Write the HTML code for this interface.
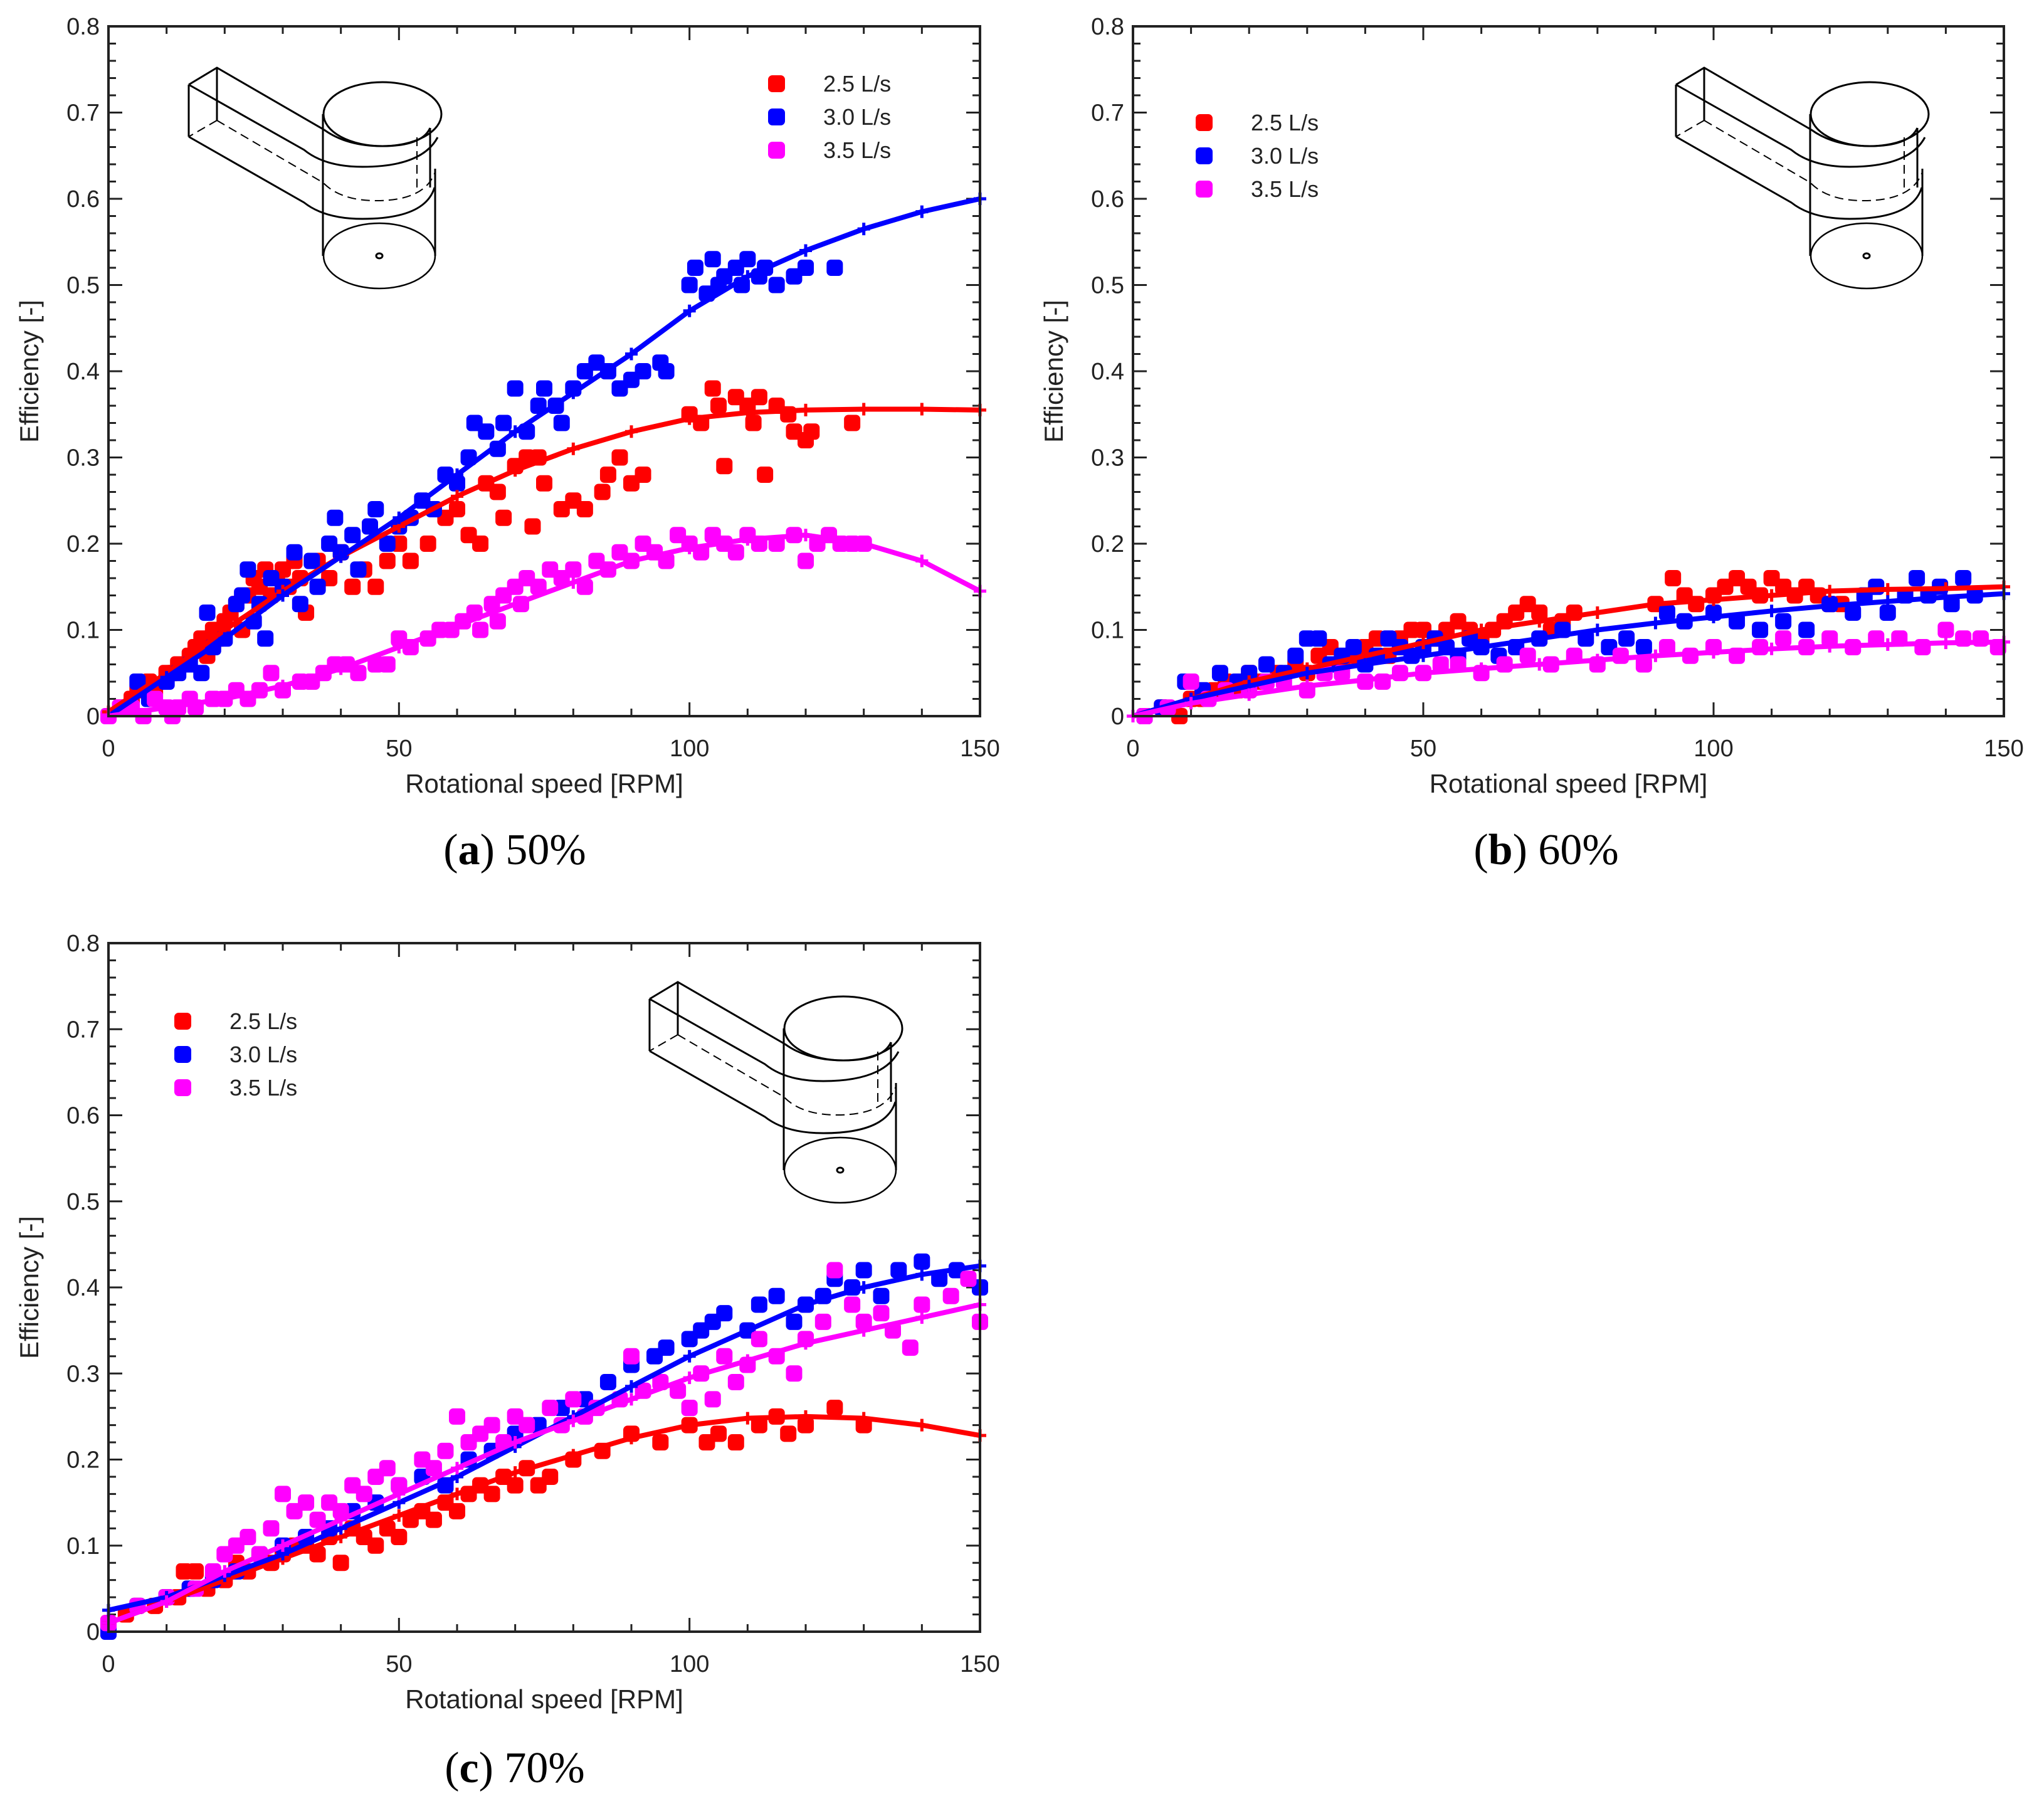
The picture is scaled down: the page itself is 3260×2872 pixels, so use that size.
<!DOCTYPE html>
<html><head><meta charset="utf-8">
<style>
html,body{margin:0;padding:0;background:#fff;}
svg{display:block;}
text{font-family:"Liberation Sans",sans-serif;fill:#222;}
.cap{font-family:"Liberation Serif",serif;fill:#000;}
</style></head>
<body>
<svg id="fig" width="3260" height="2872" viewBox="0 0 3260 2872" xmlns="http://www.w3.org/2000/svg"></svg>
<script>
// ---------- data ----------
const fitX = [0,10,20,30,40,50,60,70,80,90,100,110,120,130,140,150];
const aFitRed  = [0.005,0.05,0.1,0.145,0.185,0.22,0.255,0.285,0.31,0.33,0.345,0.352,0.355,0.356,0.356,0.355];
const aFitBlue = [0,0.045,0.09,0.14,0.185,0.23,0.28,0.33,0.375,0.42,0.47,0.51,0.54,0.565,0.585,0.6];
const aFitMag  = [0,0.01,0.02,0.035,0.055,0.08,0.105,0.13,0.155,0.18,0.195,0.205,0.21,0.2,0.18,0.145];
const bFitRed  = [0,0.02,0.04,0.055,0.07,0.085,0.1,0.11,0.12,0.13,0.135,0.14,0.145,0.147,0.148,0.15];
const bFitBlue = [0,0.02,0.035,0.05,0.06,0.07,0.08,0.09,0.1,0.108,0.115,0.122,0.128,0.133,0.138,0.142];
const bFitMag  = [0,0.015,0.025,0.035,0.042,0.05,0.055,0.06,0.065,0.07,0.074,0.078,0.081,0.083,0.085,0.086];
const cFitRed  = [0.01,0.035,0.06,0.085,0.11,0.135,0.16,0.185,0.205,0.225,0.24,0.248,0.25,0.248,0.24,0.228];
const cFitBlue = [0.025,0.04,0.065,0.09,0.12,0.15,0.18,0.215,0.25,0.285,0.32,0.35,0.38,0.4,0.415,0.425];
const cFitMag  = [0.01,0.035,0.07,0.1,0.13,0.16,0.19,0.22,0.245,0.27,0.295,0.315,0.335,0.35,0.365,0.38];

const aRed = [[2,0.01],[4,0.02],[5,0.03],[7,0.04],[8,0.03],[10,0.05],[11,0.05],[12,0.06],[14,0.07],[15,0.08],[16,0.09],[17,0.07],[18,0.1],[19,0.09],[20,0.11],[21,0.12],[22,0.13],[23,0.1],[24,0.14],[25,0.16],[26,0.15],[27,0.17],[28,0.14],[29,0.16],[30,0.17],[31,0.15],[32,0.18],[33,0.16],[34,0.12],[36,0.18],[38,0.16],[40,0.19],[42,0.15],[44,0.17],[46,0.15],[48,0.18],[50,0.2],[52,0.18],[55,0.2],[58,0.23],[60,0.24],[62,0.21],[64,0.2],[65,0.27],[67,0.26],[68,0.23],[70,0.29],[72,0.3],[73,0.22],[74,0.3],[75,0.27],[78,0.24],[80,0.25],[82,0.24],[85,0.26],[86,0.28],[88,0.3],[90,0.27],[92,0.28],[100,0.35],[102,0.34],[104,0.38],[105,0.36],[106,0.29],[108,0.37],[110,0.36],[111,0.34],[112,0.37],[113,0.28],[115,0.36],[117,0.35],[118,0.33],[120,0.32],[121,0.33],[128,0.34]];
const aBlue = [[3,0.01],[5,0.04],[7,0.02],[10,0.04],[12,0.05],[14,0.06],[16,0.05],[17,0.12],[18,0.08],[20,0.09],[22,0.13],[23,0.14],[24,0.17],[25,0.11],[26,0.13],[27,0.09],[28,0.16],[30,0.15],[32,0.19],[33,0.13],[35,0.18],[36,0.15],[38,0.2],[39,0.23],[40,0.19],[42,0.21],[43,0.17],[45,0.22],[46,0.24],[48,0.2],[50,0.22],[52,0.23],[54,0.25],[56,0.24],[58,0.28],[60,0.27],[62,0.3],[63,0.34],[65,0.33],[67,0.31],[68,0.34],[70,0.38],[72,0.33],[74,0.36],[75,0.38],[77,0.36],[78,0.34],[80,0.38],[82,0.4],[84,0.41],[86,0.4],[88,0.38],[90,0.39],[92,0.4],[95,0.41],[96,0.4],[100,0.5],[101,0.52],[103,0.49],[104,0.53],[105,0.5],[106,0.51],[108,0.52],[109,0.5],[110,0.53],[112,0.51],[113,0.52],[115,0.5],[118,0.51],[120,0.52],[125,0.52]];
const aMag = [[0,0],[2,0.01],[4,0.01],[6,0.0],[8,0.02],[10,0.01],[11,0.0],[12,0.01],[14,0.02],[15,0.01],[18,0.02],[20,0.02],[22,0.03],[24,0.02],[26,0.03],[28,0.05],[30,0.03],[33,0.04],[35,0.04],[37,0.05],[39,0.06],[41,0.06],[43,0.05],[46,0.06],[48,0.06],[50,0.09],[52,0.08],[55,0.09],[57,0.1],[59,0.1],[61,0.11],[63,0.12],[64,0.1],[66,0.13],[67,0.11],[68,0.14],[70,0.15],[71,0.13],[72,0.16],[74,0.15],[76,0.17],[78,0.16],[80,0.17],[82,0.15],[84,0.18],[86,0.17],[88,0.19],[90,0.18],[92,0.2],[94,0.19],[96,0.18],[98,0.21],[100,0.2],[102,0.19],[104,0.21],[106,0.2],[108,0.19],[110,0.21],[112,0.2],[115,0.2],[118,0.21],[120,0.18],[122,0.2],[124,0.21],[126,0.2],[128,0.2],[130,0.2]];
const bRed = [[2,0.0],[5,0.01],[8,0.0],[10,0.02],[12,0.02],[14,0.03],[16,0.04],[18,0.03],[20,0.05],[22,0.04],[25,0.05],[28,0.06],[30,0.05],[32,0.07],[34,0.08],[36,0.06],[38,0.07],[40,0.08],[42,0.09],[44,0.07],[46,0.09],[48,0.1],[50,0.1],[52,0.09],[54,0.1],[56,0.11],[58,0.1],[60,0.09],[62,0.1],[64,0.11],[66,0.12],[68,0.13],[70,0.12],[72,0.1],[74,0.11],[76,0.12],[90,0.13],[93,0.16],[95,0.14],[97,0.13],[100,0.14],[102,0.15],[104,0.16],[106,0.15],[108,0.14],[110,0.16],[112,0.15],[114,0.14],[116,0.15],[118,0.14],[120,0.13],[122,0.13]];
const bBlue = [[2,0.0],[5,0.01],[9,0.04],[12,0.03],[15,0.05],[18,0.04],[20,0.05],[23,0.06],[26,0.05],[28,0.07],[30,0.09],[32,0.09],[34,0.06],[36,0.07],[38,0.08],[40,0.06],[42,0.07],[44,0.09],[46,0.08],[48,0.07],[50,0.08],[52,0.09],[54,0.08],[56,0.07],[58,0.09],[60,0.08],[63,0.07],[66,0.08],[70,0.09],[74,0.1],[78,0.09],[82,0.08],[85,0.09],[88,0.08],[92,0.12],[95,0.11],[100,0.12],[104,0.11],[108,0.1],[112,0.11],[116,0.1],[120,0.13],[124,0.12],[126,0.14],[128,0.15],[130,0.12],[133,0.14],[135,0.16],[137,0.14],[139,0.15],[141,0.13],[143,0.16],[145,0.14]];
const bMag = [[2,0.0],[6,0.01],[10,0.04],[13,0.02],[16,0.03],[20,0.03],[23,0.04],[26,0.04],[30,0.03],[33,0.05],[36,0.05],[40,0.04],[43,0.04],[46,0.05],[50,0.05],[53,0.06],[56,0.06],[60,0.05],[64,0.06],[68,0.07],[72,0.06],[76,0.07],[80,0.06],[84,0.07],[88,0.06],[92,0.08],[96,0.07],[100,0.08],[104,0.07],[108,0.08],[112,0.09],[116,0.08],[120,0.09],[124,0.08],[128,0.09],[132,0.09],[136,0.08],[140,0.1],[143,0.09],[146,0.09],[149,0.08]];
const cRed = [[0,0.01],[3,0.02],[5,0.03],[8,0.03],[10,0.04],[12,0.04],[13,0.07],[14,0.05],[15,0.07],[17,0.05],[20,0.06],[22,0.08],[24,0.07],[26,0.09],[28,0.08],[30,0.09],[32,0.1],[34,0.1],[36,0.09],[38,0.11],[40,0.08],[42,0.12],[44,0.11],[46,0.1],[48,0.12],[50,0.11],[52,0.13],[54,0.14],[56,0.13],[58,0.15],[60,0.14],[62,0.16],[64,0.17],[66,0.16],[68,0.18],[70,0.17],[72,0.19],[74,0.17],[76,0.18],[80,0.2],[85,0.21],[90,0.23],[95,0.22],[100,0.24],[103,0.22],[105,0.23],[108,0.22],[112,0.24],[115,0.25],[117,0.23],[120,0.24],[125,0.26],[130,0.24]];
const cBlue = [[0,0.0],[5,0.03],[10,0.04],[14,0.05],[18,0.06],[22,0.07],[26,0.09],[30,0.1],[34,0.11],[38,0.12],[42,0.14],[46,0.15],[50,0.17],[54,0.18],[58,0.17],[62,0.2],[66,0.21],[70,0.23],[74,0.24],[78,0.26],[82,0.27],[86,0.29],[90,0.31],[94,0.32],[96,0.33],[100,0.34],[102,0.35],[104,0.36],[106,0.37],[110,0.35],[112,0.38],[115,0.39],[118,0.36],[120,0.38],[123,0.39],[125,0.41],[128,0.4],[130,0.42],[133,0.39],[136,0.42],[140,0.43],[143,0.41],[146,0.42],[150,0.4]];
const cMag = [[0,0.01],[5,0.03],[10,0.04],[15,0.05],[18,0.07],[20,0.09],[22,0.1],[24,0.11],[26,0.09],[28,0.12],[30,0.16],[32,0.14],[34,0.15],[36,0.13],[38,0.15],[40,0.14],[42,0.17],[44,0.16],[46,0.18],[48,0.19],[50,0.17],[54,0.2],[56,0.19],[58,0.21],[60,0.25],[62,0.22],[64,0.23],[66,0.24],[68,0.22],[70,0.25],[72,0.24],[76,0.26],[78,0.24],[80,0.27],[82,0.25],[84,0.26],[88,0.27],[90,0.32],[92,0.28],[95,0.29],[98,0.28],[100,0.26],[102,0.3],[104,0.27],[106,0.32],[108,0.29],[110,0.31],[112,0.34],[115,0.32],[118,0.3],[120,0.34],[123,0.36],[125,0.42],[128,0.38],[130,0.36],[133,0.37],[135,0.35],[138,0.33],[140,0.38],[145,0.39],[148,0.41],[150,0.36]];

const xTickLabels = ["0","50","100","150"];
const yTickLabels = ["0","0.1","0.2","0.3","0.4","0.5","0.6","0.7","0.8"];
const legendLabels = ["2.5 L/s","3.0 L/s","3.5 L/s"];
const colors = ["#ff0000","#0000ff","#ff00ff"];

// ---------- drawing ----------
const NS = "http://www.w3.org/2000/svg";
const fig = document.getElementById('fig');
function el(tag, attrs, parent){
  const e = document.createElementNS(NS, tag);
  for (const k in attrs) e.setAttribute(k, attrs[k]);
  (parent||fig).appendChild(e);
  return e;
}

function drawSchematic(g, ox, oy, id){
  const s = el('g', {transform:`translate(${ox},${oy})`, fill:'none', stroke:'#000', 'stroke-width':3}, g);
  
  
  const paths = [
    'M128,66 L173,39 L344,138',
    'M128,66 L128,149',
    'M173,39 L173,123',
    'M128,66 L312,170 Q345,197 405,197 Q500,197 525,150',
    'M128,149 L312,254 Q345,280 405,280 Q505,280 520,230',
    'M342,113 L342,339',
    'M521,200 L521,339',
    'M513,135 L513,230',
    'M344,138 Q380,164 437,164 Q500,164 513,135'
  ];
  paths.forEach(d=>el('path',{d:d},s));
  el('ellipse',{cx:437,cy:113,rx:94,ry:51},s);
  el('ellipse',{cx:432,cy:339,rx:89,ry:52,'stroke-width':2.5},s);
  el('ellipse',{cx:432,cy:339,rx:5,ry:4},s);
  const dashed = ['M173,123 L128,149','M173,123 L342,222 Q370,251 427,251 Q505,251 521,205','M492,150 L492,235'];
  dashed.forEach(d=>el('path',{d:d,'stroke-dasharray':'14 8','stroke-width':2},s));
}

function panel(id, L, R, T, B, fits, scat, legX, legY, schem){
  const g = el('g', {});
  
  
  const xs = v => L + (R-L)*v/150;
  const ys = v => B - (B-T)*v/0.8;
  drawSchematic(g, L+schem[0], T+schem[1], id);
  for (let v=0; v<=150; v+=10){
    const len = v%50===0 ? 22 : 12;
    el('line',{x1:xs(v),x2:xs(v),y1:B,y2:B-len,stroke:'#222','stroke-width':3},g);
    el('line',{x1:xs(v),x2:xs(v),y1:T,y2:T+len,stroke:'#222','stroke-width':3},g);
  }
  for (let i=0;i<=40;i++){
    const v=i*0.02, len = i%5===0 ? 22 : 12;
    el('line',{x1:L,x2:L+len,y1:ys(v),y2:ys(v),stroke:'#222','stroke-width':3},g);
    el('line',{x1:R,x2:R-len,y1:ys(v),y2:ys(v),stroke:'#222','stroke-width':3},g);
  }
  scat.forEach((pts,si)=>{
    const sg = el('g',{fill:colors[si]},g);
    
    
    pts.forEach(p=>{
      const r = el('rect',{x:xs(p[0])-13,y:ys(p[1])-13,width:26,height:26,rx:7},sg);
      
      
    });
  });
  fits.forEach((f,si)=>{
    const d = f.map((v,i)=>(i?'L':'M')+xs(fitX[i]).toFixed(1)+','+ys(v).toFixed(1)).join(' ');
    const pl = el('path',{d:d,fill:'none',stroke:colors[si],'stroke-width':8,'stroke-linejoin':'round'},g);
    
    
    f.forEach((v,i)=>{
      const cx=xs(fitX[i]), cy=ys(v);
      el('path',{d:`M${cx-10},${cy} L${cx+10},${cy} M${cx},${cy-10} L${cx},${cy+10}`,stroke:colors[si],'stroke-width':5},g);
    });
  });
  const fr = el('rect',{x:L,y:T,width:R-L,height:B-T,fill:'none',stroke:'#222','stroke-width':4},g);
  
  
  xTickLabels.forEach(t=>{
    const tx = el('text',{x:xs(+t),y:B+64,'text-anchor':'middle','font-size':38},g);
    tx.textContent = t;
    
    
  });
  yTickLabels.forEach(t=>{
    const ty = el('text',{x:L-14,y:ys(+t)+13,'text-anchor':'end','font-size':38},g);
    ty.textContent = t;
    
    
  });
  const xt = el('text',{x:(L+R)/2,y:B+122,'text-anchor':'middle','font-size':42},g);
  xt.textContent = 'Rotational speed [RPM]';
  
  
  const yt = el('text',{x:0,y:0,'text-anchor':'middle','font-size':42,transform:`translate(${L-112},${(T+B)/2}) rotate(-90)`},g);
  yt.textContent = 'Efficiency [-]';
  
  
  legendLabels.forEach((lab,i)=>{
    const le = el('g',{},g);
    
    
    el('rect',{x:legX-13,y:legY+i*53-13,width:27,height:27,rx:7,fill:colors[i]},le);
    const lt = el('text',{x:legX+75,y:legY+i*53+13,'font-size':36,fill:'#000'},le);
    lt.textContent = lab;
  });
}

panel('a', 173, 1563, 42, 1142, [aFitRed,aFitBlue,aFitMag], [aRed,aBlue,aMag], 1238, 133, [0,27]);
panel('b', 1807, 3196, 42, 1142, [bFitRed,bFitBlue,bFitMag], [bRed,bBlue,bMag], 1920, 195, [738,27]);
panel('c', 173, 1563, 1504, 2602, [cFitRed,cFitBlue,cFitMag], [cRed,cBlue,cMag], 291, 1628, [735,23]);

[['a','50%',821,1378],['b','60%',2466,1378],['c','70%',821,2842]].forEach(c=>{
  const t = el('text',{x:c[2],y:c[3],'text-anchor':'middle','font-size':70,class:'cap'});
  
  
  t.innerHTML = `(<tspan font-weight="bold">${c[0]}</tspan>) ${c[1]}`;
});
</script>
</body></html>
